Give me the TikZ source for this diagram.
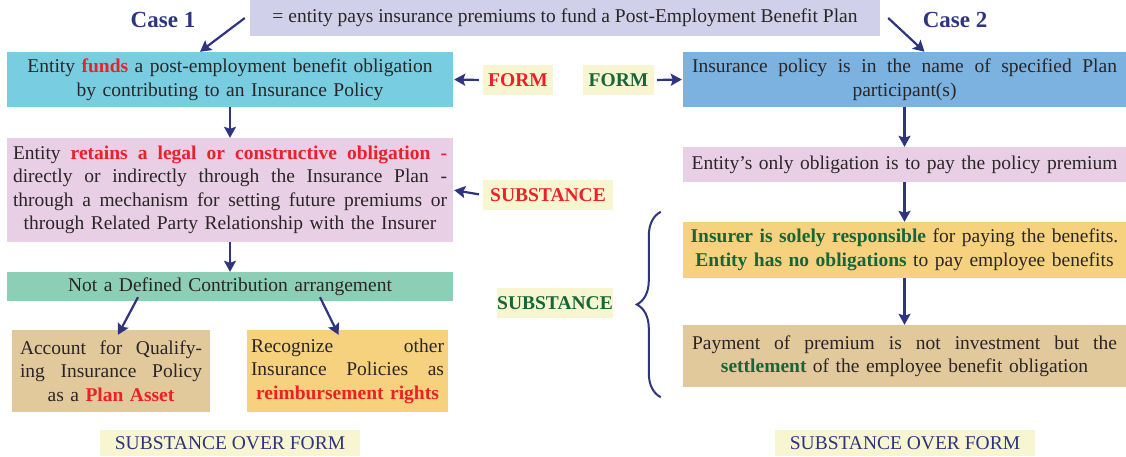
\documentclass[tikz,border=0pt]{standalone}
\usepackage{fontspec}
\setmainfont{Liberation Serif}
\usetikzlibrary{arrows.meta,decorations.pathreplacing}
\definecolor{navy}{HTML}{2E3480}
\definecolor{ink}{HTML}{2A2526}
\definecolor{hired}{HTML}{EC2027}
\definecolor{higreen}{HTML}{17663A}
\definecolor{lavender}{HTML}{D1D0EA}
\definecolor{cyanbox}{HTML}{79CDE0}
\definecolor{bluebox}{HTML}{7BB2E0}
\definecolor{pinkbox}{HTML}{E8CFE6}
\definecolor{tealbox}{HTML}{8DCFB6}
\definecolor{tanbox}{HTML}{E2C99B}
\definecolor{orangebox}{HTML}{F6D27E}
\definecolor{paleyellow}{HTML}{F8F6D0}
\newcommand{\bodyfont}{\fontsize{19.5}{23.5}\selectfont}
\newcommand{\redb}[1]{\textcolor{hired}{\textbf{#1}}}
\newcommand{\grnb}[1]{\textcolor{higreen}{\textbf{#1}}}
% justified line (the node alignment fixes the word space, so free it again)
\newcommand{\jline}[1]{{\spaceskip=0pt\xspaceskip=0pt\makebox[\hsize][s]{#1}}}

\begin{document}
\begin{tikzpicture}[x=1pt, y=-1pt,
    panel/.style={inner xsep=7pt, inner ysep=0pt, align=center, font=\bodyfont, text=ink},
    tag/.style={fill=paleyellow, inner sep=0pt, font=\bodyfont\bfseries},
    arr/.style={navy, line width=2.2pt, -{Stealth[length=11pt,width=12pt,inset=2pt]}}]
    \useasboundingbox (0,0) rectangle (1126,456);

    % Heading
    \node[panel, fill=lavender, minimum width=630pt, minimum height=36pt] (intro) at (565,18)
        {= entity pays insurance premiums to fund a Post-Employment Benefit Plan};
    \node[font=\fontsize{23}{26}\selectfont\bfseries, text=navy] (case1) at (163,20) {Case 1};
    \node[font=\fontsize{23}{26}\selectfont\bfseries, text=navy] (case2) at (955,20) {Case 2};

    % Case 1
    \node[panel, fill=cyanbox, text width=432pt, minimum height=55pt] (fund) at (230,79.5)
        {Entity \redb{funds} a post-employment benefit obligation\\ by contributing to an Insurance Policy};
    \node[panel, fill=pinkbox, text width=434pt, inner xsep=6pt, minimum height=104pt] (retain) at (230,190)
        {\jline{Entity \redb{retains a legal or constructive obligation -}}\\
         \jline{directly or indirectly through the Insurance Plan -}\\
         \jline{through a mechanism for setting future premiums or}\\
         through Related Party Relationship with the Insurer};
    \node[panel, fill=tealbox, text width=432pt, minimum height=29pt] (notdc) at (230,286.5)
        {Not a Defined Contribution arrangement};
    \node[panel, fill=tanbox, text width=182pt, inner xsep=8pt, minimum height=82pt] (qual) at (111,371)
        {\jline{Account for Qualify-}\\ \jline{ing Insurance Policy}\\ as a \redb{Plan Asset}};
    \node[panel, fill=orangebox, text width=193pt, inner xsep=4pt, minimum height=82pt] (reimb) at (347.5,371)
        {\jline{Recognize other}\\ \jline{Insurance Policies as}\\ \redb{reimbursement rights}};
    \node[tag, text=hired, minimum width=70pt, minimum height=30pt] (formA) at (518,80) {FORM};
    \node[tag, text=hired, minimum width=130pt, minimum height=30pt] (subA) at (548,195) {SUBSTANCE};
    \node[tag, font=\bodyfont, text=navy, minimum width=260pt, minimum height=26pt] (sofA) at (230,443)
        {SUBSTANCE OVER FORM};

    % Case 2
    \node[panel, fill=bluebox, text width=425pt, inner xsep=9pt, minimum height=55pt] (ins) at (904.5,79.5)
        {\jline{Insurance policy is in the name of specified Plan}\\ participant(s)};
    \node[panel, fill=pinkbox, text width=437pt, inner xsep=3pt, minimum height=35pt] (only) at (904.5,164.5)
        {Entity's only obligation is to pay the policy premium};
    \node[panel, fill=orangebox, text width=437pt, inner xsep=3pt, minimum height=56pt] (solely) at (904.5,250)
        {\grnb{Insurer is solely responsible} for paying the benefits.\\
         \grnb{Entity has no obligations} to pay employee benefits};
    \node[panel, fill=tanbox, text width=425pt, inner xsep=9pt, minimum height=62pt] (settle) at (904.5,356)
        {\jline{Payment of premium is not investment but the}\\
         \grnb{settlement} of the employee benefit obligation};
    \node[tag, text=higreen, minimum width=71pt, minimum height=30pt] (formB) at (618.5,80) {FORM};
    \node[tag, text=higreen, minimum width=110pt, minimum height=30pt] (subB) at (555,303) {SUBSTANCE};
    \node[tag, font=\bodyfont, text=navy, minimum width=260pt, minimum height=26pt] (sofB) at (905,443)
        {SUBSTANCE OVER FORM};

    % Arrows
    \draw[arr] ([xshift=-5pt]intro.west) -- ([xshift=-30pt]fund.north);
    \draw[arr] ([xshift=8pt]intro.east) -- ([xshift=20pt]ins.north);
    \draw[arr, shorten <=4pt, shorten >=1pt] (formA.west) -- (fund.east);
    \draw[arr, shorten <=4pt, shorten >=1pt] (subA.west) -- (retain.east);
    \draw[arr, shorten <=3pt, shorten >=1pt] (formB.east) -- (ins.west);
    \draw[arr] (fund.south) -- (retain.north);
    \draw[arr] (retain.south) -- (notdc.north);
    \draw[arr] ([shift={(-92pt,4pt)}]notdc.south) -- ([shift={(7pt,-5pt)}]qual.north);
    \draw[arr] ([shift={(90pt,4pt)}]notdc.south) -- ([shift={(-9pt,-5pt)}]reimb.north);
    \draw[arr] (ins.south) -- (only.north);
    \draw[arr] (only.south) -- (solely.north);
    \draw[arr] (solely.south) -- (settle.north);

    % Brace
    \draw[navy, line width=2pt, decorate, decoration={brace, amplitude=24pt}]
        ([shift={(-22pt,-10pt)}]settle.south west) -- ([shift={(-22pt,10pt)}]solely.north west);
\end{tikzpicture}
\end{document}
